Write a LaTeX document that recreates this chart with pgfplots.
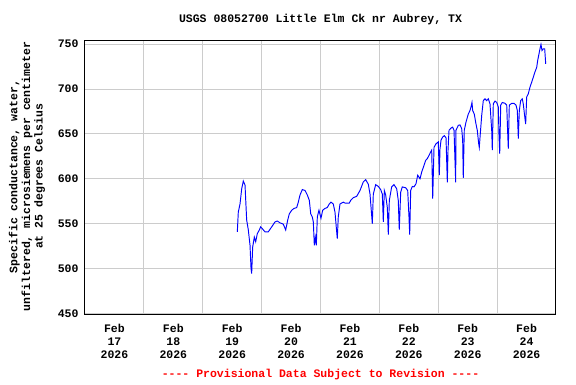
\documentclass[border=0pt]{standalone}
\usepackage{pgfplots}
\pgfplotsset{compat=1.18}
\usepackage{fontspec}
\setmainfont{Liberation Mono}
\setmonofont{Liberation Mono}
\newcommand\lab{\fontsize{11.5}{12.6}\selectfont\bfseries}
\definecolor{gridgray}{HTML}{CCCCCC}
\begin{document}
\begin{tikzpicture}
\useasboundingbox (-85pt,-70pt) rectangle (491pt,314pt);
\begin{axis}[at={(0,0)}, anchor=south west, scale only axis,
  width=471pt, height=274pt,
  xmin=0, xmax=8, ymin=449.5, ymax=754.5,
  xtick={0.5,1.5,2.5,3.5,4.5,5.5,6.5,7.5},
  xticklabels={{Feb\\17\\2026},{Feb\\18\\2026},{Feb\\19\\2026},{Feb\\20\\2026},{Feb\\21\\2026},{Feb\\22\\2026},{Feb\\23\\2026},{Feb\\24\\2026}},
  minor xtick={1,2,3,4,5,6,7},
  xminorgrids, xmajorgrids=false,
  ytick={450,500,550,600,650,700,750},
  ymajorgrids,
  major grid style={gridgray, line width=0.8pt},
  minor grid style={gridgray, line width=0.8pt},
  tick style={draw=none},
  major tick length=0pt, minor tick length=0pt,
  xticklabel style={align=center, font=\lab, yshift=-7pt},
  yticklabel style={font=\lab, xshift=-3pt},
  /pgf/number format/assume math mode=true,
  axis line style={line width=1pt},
]
\addplot[blue, line width=0.95pt] coordinates {
(2.587,541) (2.604,563) (2.633,572) (2.662,589) (2.689,597.5) (2.718,593)
(2.746,554) (2.774,543) (2.803,526) (2.820,500) (2.831,494.5) (2.848,524)
(2.876,535) (2.899,530) (2.927,539) (2.961,543) (2.984,546.5) (3.018,544)
(3.057,541) (3.113,541) (3.171,546.5) (3.227,552) (3.266,553) (3.312,551)
(3.368,549.5) (3.409,543) (3.443,554) (3.470,561) (3.511,565) (3.550,567)
(3.596,568) (3.623,574) (3.652,582) (3.691,588) (3.737,587) (3.776,582)
(3.810,576) (3.834,561) (3.861,557.5) (3.878,552) (3.895,526) (3.912,535)
(3.929,526) (3.946,557.5) (3.974,565) (4.008,556) (4.037,565) (4.076,567)
(4.115,568) (4.149,572) (4.178,574) (4.217,572) (4.246,563) (4.263,550)
(4.285,533.5) (4.302,557.5) (4.331,572) (4.387,574) (4.416,573) (4.489,573)
(4.513,576) (4.557,579) (4.615,580.5) (4.671,587) (4.727,596.5) (4.768,599)
(4.812,594) (4.841,583) (4.880,550) (4.897,583) (4.937,593.5) (4.982,591.5)
(5.022,588) (5.050,583) (5.067,552) (5.084,587) (5.107,582) (5.135,568)
(5.152,538) (5.169,576) (5.209,591) (5.248,593.5) (5.294,589) (5.321,576)
(5.338,543.5) (5.362,585) (5.389,591) (5.447,590) (5.481,587) (5.503,557.5)
(5.515,538) (5.532,587) (5.559,591.5) (5.588,591) (5.622,594.5) (5.651,604)
(5.690,600) (5.719,607.5) (5.758,615) (5.787,620.5) (5.814,622.5) (5.843,626)
(5.872,630) (5.889,632) (5.906,578) (5.928,635) (5.962,639) (6.001,641)
(6.018,604) (6.030,633.5) (6.047,643) (6.075,646.5) (6.103,648) (6.132,645.7)
(6.154,596) (6.166,632) (6.183,654) (6.217,656.5) (6.245,657.5) (6.268,654)
(6.285,619) (6.296,596) (6.301,654) (6.341,659.5) (6.369,660) (6.398,656)
(6.415,643) (6.425,601) (6.442,654) (6.471,663) (6.510,672) (6.539,676)
(6.556,680) (6.573,685) (6.585,676) (6.612,672) (6.641,661) (6.663,654)
(6.687,639) (6.697,635) (6.714,650) (6.738,670.5) (6.765,687) (6.794,689)
(6.823,687) (6.850,689) (6.879,683.5) (6.908,654) (6.918,632) (6.935,683.5)
(6.964,686.5) (6.993,685) (7.020,680) (7.032,648) (7.044,628) (7.061,682)
(7.088,685) (7.134,684) (7.163,682) (7.180,650) (7.190,633.5) (7.207,682)
(7.248,684) (7.287,684) (7.321,682) (7.343,676) (7.360,644.7) (7.377,676)
(7.400,687) (7.427,689) (7.444,683.5) (7.473,667) (7.485,661) (7.502,691)
(7.529,694.5) (7.558,702) (7.587,707.5) (7.614,713) (7.643,719) (7.672,724)
(7.689,731.7) (7.711,739) (7.728,744.7) (7.745,749.5) (7.762,742.8) (7.784,744.7)
(7.808,744.7) (7.818,735) (7.825,728)
};
\end{axis}
\node[font=\lab, align=center, rotate=90] at (-58pt,137.5pt)
  {Specific conductance, water,\\unfiltered, microsiemens per centimeter\\at 25 degrees Celsius};
\node[font=\lab] at (235.5pt,294pt) {USGS 08052700 Little Elm Ck nr Aubrey, TX};
\node[font=\lab, text=red] at (235.5pt,-61pt) {-{}-{}-{}- Provisional Data Subject to Revision -{}-{}-{}-};
\end{tikzpicture}
\end{document}
